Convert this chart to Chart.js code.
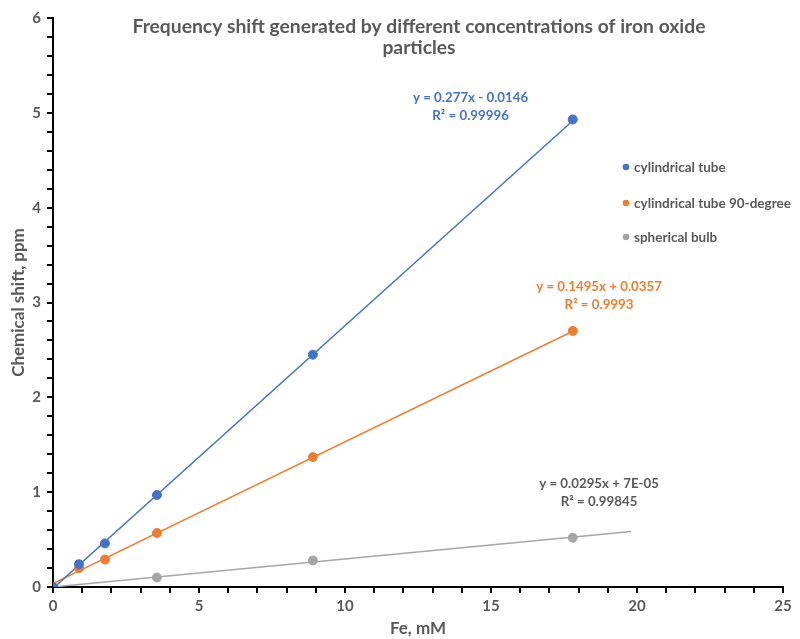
<!DOCTYPE html>
<html>
<head>
<meta charset="utf-8">
<script src="https://cdn.jsdelivr.net/npm/chart.js@4"></script>
<style>
  html, body { margin: 0; padding: 0; background: #fff; }
  #wrap { width: 800px; height: 639px; }
</style>
</head>
<body>
<div id="wrap"><canvas id="chart" width="800" height="639"></canvas></div>
<script>
// values
const feX      = [0, 0.89, 1.78, 3.56, 8.9, 17.8];
const cylTube  = [0, 0.24, 0.46, 0.97, 2.45, 4.93];
const cyl90    = [0, 0.20, 0.29, 0.57, 1.37, 2.70];
const sphereX  = [0, 3.56, 8.9, 17.8];
const sphere   = [0, 0.10, 0.28, 0.52];

// trendline end points (from the fitted equations shown on the chart)
const trendCylX = [0, 17.8];   const trendCylY = [-0.0146, 4.916];
const trend90X  = [0, 17.8];   const trend90Y  = [0.0357, 2.697];
const trendSphX = [0, 19.8];   const trendSphY = [0.0001, 0.584];

const seriesNames = ['cylindrical tube', 'cylindrical tube 90-degree', 'spherical bulb'];
const colors = ['#4472C4', '#ED7D31', '#A5A5A5'];
const eqText = [
  ['y = 0.277x - 0.0146', 'R² = 0.99996'],
  ['y = 0.1495x + 0.0357', 'R² = 0.9993'],
  ['y = 0.0295x + 7E-05', 'R² = 0.99845']
];
const eqAt = [[14.3, 5.16], [18.7, 3.17], [18.7, 1.09]];

const grayText = '#595959';
const FONT = 'Lato, "Open Sans", sans-serif';

function pts(xs, ys) { return xs.map((x, i) => ({x: x, y: ys[i]})); }

function trend(xs, ys, c) {
  return { type: 'line', data: pts(xs, ys), borderColor: c, borderWidth: 1.5,
           pointRadius: 0, showLine: true, fill: false, order: 5 };
}
function scatter(label, xs, ys, c) {
  return { type: 'scatter', label: label, data: pts(xs, ys), backgroundColor: c, borderColor: c,
           pointRadius: 4.5, pointHoverRadius: 4.5, order: 1 };
}

const overlay = {
  id: 'overlay',
  afterDraw(chart) {
    const ctx = chart.ctx, xs = chart.scales.x, ys = chart.scales.y, a = chart.chartArea;
    ctx.save();
    // title
    ctx.fillStyle = grayText;
    ctx.textAlign = 'center';
    ctx.textBaseline = 'middle';
    ctx.font = 'bold 19.3px ' + FONT;
    const cx = (a.left + a.right) / 2;
    ctx.fillText('Frequency shift generated by different concentrations of iron oxide', cx + 1, 27);
    ctx.fillText('particles', cx + 1, 48);
    // trendline equations
    ctx.font = 'bold 13.3px ' + FONT;
    eqText.forEach((lines, i) => {
      ctx.fillStyle = i === 2 ? grayText : colors[i];
      const px = xs.getPixelForValue(eqAt[i][0]);
      const py = ys.getPixelForValue(eqAt[i][1]);
      ctx.fillText(lines[0], px, py);
      ctx.fillText(lines[1], px, py + 18);
    });
    // legend
    ctx.textAlign = 'left';
    ctx.font = 'bold 13.5px ' + FONT;
    const lx = a.right - 157, ly = [168, 204, 238];
    seriesNames.forEach((n, i) => {
      ctx.fillStyle = colors[i];
      ctx.beginPath();
      ctx.arc(lx, ly[i] - 1, 3.3, 0, Math.PI * 2);
      ctx.fill();
      ctx.fillStyle = grayText;
      ctx.fillText(n, lx + 8, ly[i]);
    });
    ctx.restore();
  }
};

function isInt(v) { return Math.abs(v - Math.round(v)) < 1e-6; }

new Chart(document.getElementById('chart'), {
  data: {
    datasets: [
      trend(trendCylX, trendCylY, colors[0]),
      trend(trend90X, trend90Y, colors[1]),
      trend(trendSphX, trendSphY, colors[2]),
      scatter(seriesNames[0], feX, cylTube, colors[0]),
      scatter(seriesNames[1], feX, cyl90, colors[1]),
      scatter(seriesNames[2], sphereX, sphere, colors[2])
    ]
  },
  plugins: [overlay],
  options: {
    responsive: false,
    animation: false,
    layout: { padding: { top: 18, right: 17, left: 8, bottom: 0 } },
    plugins: { legend: { display: false }, title: { display: false }, tooltip: { enabled: false } },
    scales: {
      x: {
        type: 'linear', min: 0, max: 25,
        border: { color: '#000', width: 2 },
        grid: { drawOnChartArea: false, color: '#000', lineWidth: 2, tickLength: 6 },
        ticks: { stepSize: 1, autoSkip: false, maxRotation: 0, color: grayText,
                 font: { family: FONT, size: 15, weight: 'bold' }, padding: 4,
                 callback: v => (isInt(v / 5) ? v : '') },
        title: { display: true, text: 'Fe, mM', color: grayText, padding: { top: 0, bottom: 0 },
                 font: { family: FONT, size: 17, weight: 'bold' } },
        afterFit(s) { s.height = 52; }
      },
      y: {
        type: 'linear', min: 0, max: 6,
        border: { color: '#000', width: 2 },
        grid: { drawOnChartArea: false, color: '#000', lineWidth: 2, tickLength: 6 },
        ticks: { stepSize: 0.2, autoSkip: false, color: grayText,
                 font: { family: FONT, size: 15, weight: 'bold' }, padding: 6,
                 callback: v => (isInt(v) ? Math.round(v) : '') },
        title: { display: true, text: 'Chemical shift, ppm', color: grayText, padding: { top: 0, bottom: 0 },
                 font: { family: FONT, size: 17, weight: 'bold' } },
        afterFit(s) { s.width = 45; }
      }
    }
  }
});
</script>
</body>
</html>
